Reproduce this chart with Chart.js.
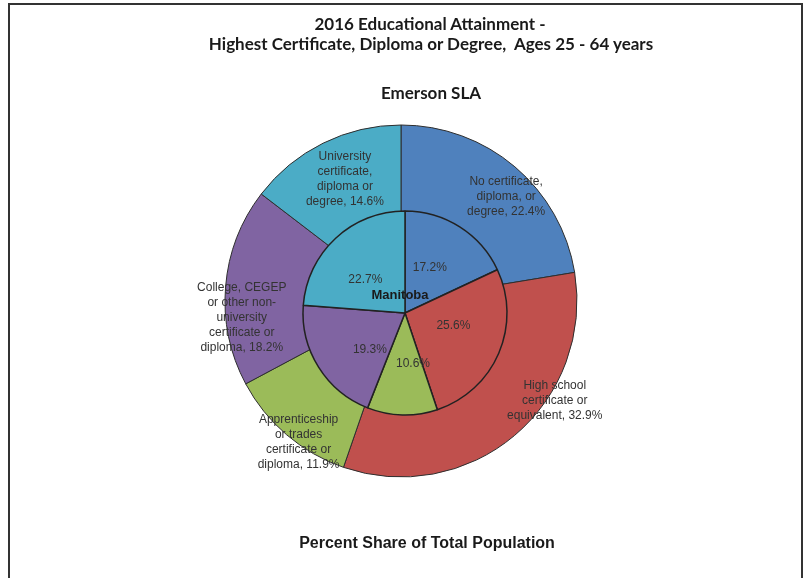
<!DOCTYPE html>
<html><head><meta charset="utf-8">
<script src="https://cdn.jsdelivr.net/npm/chart.js@4.4.1/dist/chart.umd.min.js"></script>
<style>
html,body{margin:0;padding:0;background:#fff;}
#wrap{position:relative;width:805px;height:578px;overflow:hidden;background:#fff;}
#frame{position:absolute;left:8px;top:3px;width:791px;height:620px;border:2px solid #333;border-bottom:none;}
canvas{position:absolute;left:0;top:0;}
.t{position:absolute;transform:translate(-50%,-50%);white-space:pre;color:#1a1a1a;}
</style></head><body>
<div id="wrap">
<div id="frame"></div>
<canvas id="outer" width="805" height="578"></canvas>
<canvas id="inner" width="805" height="578"></canvas>
<div class="t" id="t1" style="left:430px;top:23px;font:bold 17px Lato, sans-serif"></div>
<div class="t" id="t2" style="left:431px;top:43px;font:bold 17px Lato, sans-serif"></div>
<div class="t" id="t3" style="left:431px;top:92px;font:bold 17px Lato, sans-serif"></div>
<div class="t" id="t4" style="left:427px;top:543px;font:bold 16px 'Liberation Sans', Arial, sans-serif"></div>
</div>
<script>
// ---- data ----
const titleLines = ['2016 Educational Attainment -', 'Highest Certificate, Diploma or Degree,  Ages 25 - 64 years'];
const outerTitle = 'Emerson SLA';
const innerTitle = 'Manitoba';
const footerTitle = 'Percent Share of Total Population';
const categories = [
  ['No certificate,', 'diploma, or', 'degree'],
  ['High school', 'certificate or', 'equivalent'],
  ['Apprenticeship', 'or trades', 'certificate or', 'diploma'],
  ['College, CEGEP', 'or other non-', 'university', 'certificate or', 'diploma'],
  ['University', 'certificate,', 'diploma or', 'degree']
];
const emersonValues = [22.4, 32.9, 11.9, 18.2, 14.6];
const manitobaValues = [17.2, 25.6, 10.6, 19.3, 22.7];
const sliceColors = ['#4F81BD', '#C0504D', '#9BBB59', '#8064A2', '#4BACC6'];

// ---- label placement (style/layout only) ----
const outerPlace = [{f:0.84, da:5}, {f:1.04, da:-17}, {f:0.99, da:-4.5}, {f:0.91, da:-10.8}, {f:0.76, da:1.5}];
const innerPlace = [{f:0.51, da:-4}, {f:0.49, da:-9}, {f:0.5, da:-10.5}, {f:0.5, da:-14.5}, {f:0.51, da:-6.8}];

document.getElementById('t1').textContent = titleLines[0];
document.getElementById('t2').textContent = titleLines[1];
document.getElementById('t3').textContent = outerTitle;
document.getElementById('t4').textContent = footerTitle;

const labelPlugin = {
  id: 'sliceLabels',
  afterDatasetsDraw(chart, args, opts) {
    const ctx = chart.ctx;
    const meta = chart.getDatasetMeta(0);
    const vals = chart.data.datasets[0].data;
    ctx.save();
    ctx.fillStyle = '#333';
    ctx.font = '12px "Liberation Sans", Arial, sans-serif';
    ctx.textAlign = 'center';
    ctx.textBaseline = 'middle';
    meta.data.forEach((arc, i) => {
      const p = arc.getProps(['x','y','startAngle','endAngle','outerRadius'], true);
      const pl = opts.place[i];
      const mid = (p.startAngle + p.endAngle) / 2 + pl.da * Math.PI / 180;
      const r = p.outerRadius * pl.f;
      const cx = p.x + Math.cos(mid) * r;
      const cy = p.y + Math.sin(mid) * r;
      let lines;
      const v = vals[i].toFixed(1) + '%';
      if (opts.withNames) {
        lines = categories[i].slice();
        lines[lines.length - 1] = lines[lines.length - 1] + ', ' + v;
      } else {
        lines = [v];
      }
      const lh = 15;
      const y0 = cy - (lines.length - 1) * lh / 2;
      lines.forEach((ln, k) => ctx.fillText(ln, cx, y0 + k * lh));
    });
    if (opts.centerText) {
      const a = meta.data[0];
      ctx.font = 'bold 13px "Liberation Sans", Arial, sans-serif';
      ctx.fillStyle = '#1a1a1a';
      ctx.fillText(opts.centerText, a.x - 5, a.y - 18);
    }
    ctx.restore();
  }
};

const common = {
  responsive: false,
  animation: false,
  events: [],
  plugins: { legend: { display: false }, tooltip: { enabled: false } }
};

new Chart(document.getElementById('outer'), {
  type: 'pie',
  data: {
    labels: categories,
    datasets: [{
      data: emersonValues,
      backgroundColor: sliceColors,
      borderColor: '#2e2e2e',
      borderWidth: 1,
      radius: 176
    }]
  },
  options: Object.assign({}, common, {
    layout: { padding: { top: 24, left: 0, right: 3, bottom: 0 } },
    plugins: Object.assign({}, common.plugins, { sliceLabels: { place: outerPlace, withNames: true } })
  }),
  plugins: [labelPlugin]
});

new Chart(document.getElementById('inner'), {
  type: 'pie',
  data: {
    labels: categories,
    datasets: [{
      data: manitobaValues,
      backgroundColor: sliceColors,
      borderColor: '#222',
      borderWidth: 1.5,
      radius: 102
    }]
  },
  options: Object.assign({}, common, {
    layout: { padding: { top: 48, left: 5, right: 0, bottom: 0 } },
    plugins: Object.assign({}, common.plugins, { sliceLabels: { place: innerPlace, withNames: false, centerText: innerTitle } })
  }),
  plugins: [labelPlugin]
});
</script>
</body></html>
